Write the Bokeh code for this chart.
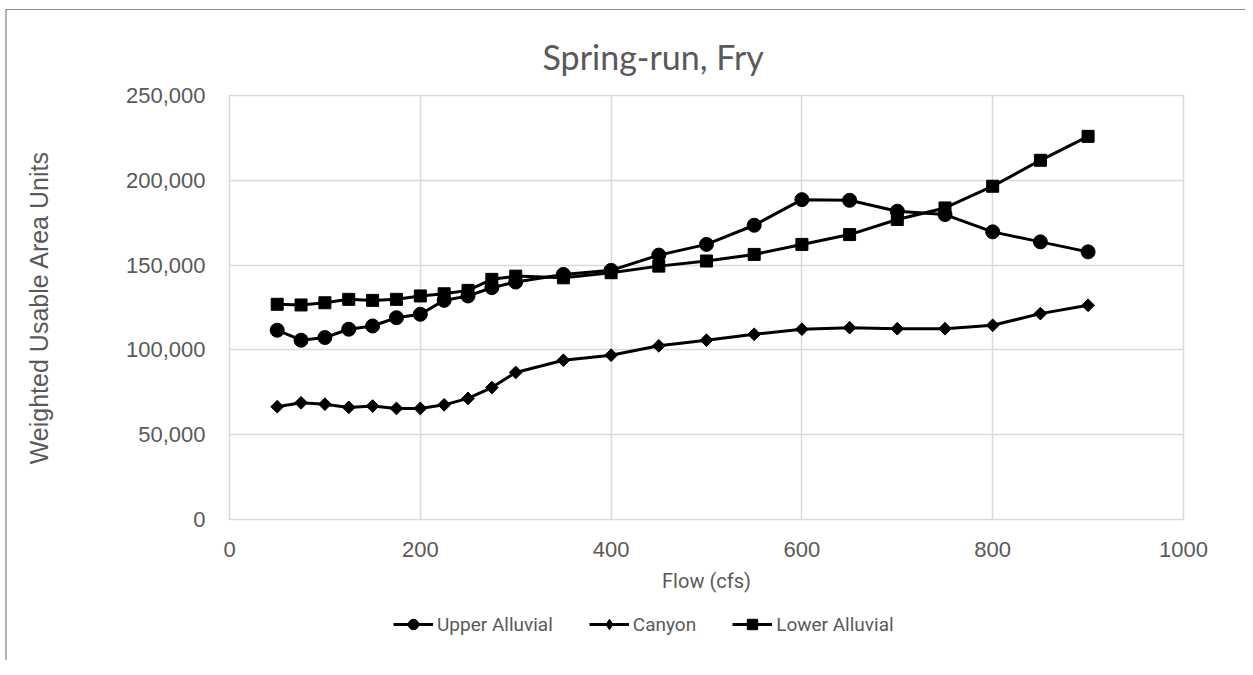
import math
from bokeh.plotting import figure
from bokeh.layouts import column
from bokeh.models import Range1d, FixedTicker, NumeralTickFormatter, Legend, LegendItem
from bokeh.embed import file_html
from bokeh.resources import INLINE

# ---- data ----
flow = [50, 75, 100, 125, 150, 175, 200, 225, 250, 275, 300, 350, 400,
        450, 500, 550, 600, 650, 700, 750, 800, 850, 900]
upper_alluvial = [111600, 105700, 107300, 112200, 114100, 119000, 121000, 129200,
                  131800, 136700, 140000, 144500, 146900, 155900, 162200, 173500,
                  188600, 188200, 181800, 179800, 169600, 163700, 157800]
canyon = [66500, 68800, 68000, 66100, 66900, 65500, 65500, 67600, 71400, 77800,
          86700, 93900, 96900, 102400, 105700, 109200, 112200, 113100, 112500,
          112500, 114500, 121400, 126300]
lower_alluvial = [126900, 126500, 127800, 129800, 129200, 129800, 131800, 133100,
                  135100, 141600, 143500, 142500, 145500, 149400, 152400, 156300,
                  162200, 168000, 176900, 183700, 196500, 211800, 225900]
series_names = ["Upper Alluvial", "Canyon", "Lower Alluvial"]
x_ticks = [0, 200, 400, 600, 800, 1000]
y_ticks = [0, 50000, 100000, 150000, 200000, 250000]

TXT = "#595959"
GRID = "#d9d9d9"
NARROW = "Roboto"
W = 1238

p = figure(width=W, height=590, output_backend="svg", toolbar_location=None,
           x_range=Range1d(0, 1000), y_range=Range1d(0, 250000),
           min_border_left=222, min_border_top=85, min_border_right=62,
           min_border_bottom=81)

p.title.text = "Spring-run, Fry"
p.title.text_font = "Lato"
p.title.text_font_size = "34px"
p.title.text_font_style = "normal"
p.title.text_color = TXT
p.title.align = "left"
p.title.offset = 313
p.title.standoff = 37

p.outline_line_color = GRID
p.outline_line_width = 1.5
p.background_fill_color = "white"
p.border_fill_color = "white"

p.xgrid.ticker = FixedTicker(ticks=x_ticks)
p.ygrid.ticker = FixedTicker(ticks=y_ticks)
p.xgrid.grid_line_color = GRID
p.ygrid.grid_line_color = GRID
p.xgrid.grid_line_width = 1.5
p.ygrid.grid_line_width = 1.5

xa = p.xaxis[0]
xa.ticker = FixedTicker(ticks=x_ticks)
xa.axis_label = "Flow (cfs)"
xa.axis_label_text_font = NARROW
xa.axis_label_text_font_size = "20px"
xa.axis_label_text_font_style = "normal"
xa.axis_label_text_color = TXT
xa.axis_label_standoff = 9
xa.major_label_text_font = "Liberation Sans"
xa.major_label_text_font_size = "22px"
xa.major_label_text_color = TXT
xa.major_label_standoff = 16

ya = p.yaxis[0]
ya.ticker = FixedTicker(ticks=y_ticks)
ya.formatter = NumeralTickFormatter(format="0,0")
ya.axis_label = "Weighted Usable Area Units"
ya.axis_label_text_font = "Liberation Sans"
ya.axis_label_text_font_size = "25px"
ya.axis_label_text_font_style = "normal"
ya.axis_label_text_color = TXT
ya.axis_label_standoff = 70
ya.major_label_text_font = "Liberation Sans"
ya.major_label_text_font_size = "22px"
ya.major_label_text_color = TXT
ya.major_label_standoff = 18

for ax in (xa, ya):
    ax.axis_line_color = None
    ax.major_tick_line_color = None
    ax.minor_tick_line_color = None

series = [upper_alluvial, canyon, lower_alluvial]
markers = [("circle", 14, 0.0), ("square", 9, math.pi / 4), ("square", 12, 0.0)]
legend_markers = ["circle", "diamond", "square"]

for vals, (mk, sz, ang) in zip(series, markers):
    p.line(flow, vals, line_color="black", line_width=3)
    p.scatter(flow, vals, marker=mk, size=sz, angle=ang, color="black")

# ---- legend strip (separate figure so the legend is not clipped) ----
lg = figure(width=W, height=60, output_backend="svg", toolbar_location=None,
            x_axis_type=None, y_axis_type=None,
            x_range=Range1d(-10, -9), y_range=Range1d(-10, -9),
            min_border=0, min_border_left=0, min_border_right=0,
            min_border_top=0, min_border_bottom=0)
lg.outline_line_color = None
lg.grid.visible = False
lg.background_fill_color = "white"
lg.border_fill_color = "white"

items = []
for name, vals, mk in zip(series_names, series, legend_markers):
    lr = lg.line(flow, vals, line_color="black", line_width=3)
    sr = lg.scatter(flow, vals, marker=mk, size=12, color="black")
    items.append(LegendItem(label=name, renderers=[lr, sr]))

legend = Legend(items=items, orientation="horizontal", location=(164, 23),
                border_line_color=None, background_fill_alpha=0,
                padding=0, margin=0, spacing=36, label_standoff=4,
                glyph_width=40, glyph_height=26, label_height=20,
                label_text_font=NARROW, label_text_font_size="19px",
                label_text_color=TXT)
lg.add_layout(legend, "center")

layout = column(p, lg, spacing=0)
layout.styles = {"border-left": "2px solid #b3b3b3", "border-top": "1px solid #8c8c8c",
                 "margin-left": "5px", "margin-top": "9px"}

open("out.html", "w").write(file_html(layout, INLINE))
